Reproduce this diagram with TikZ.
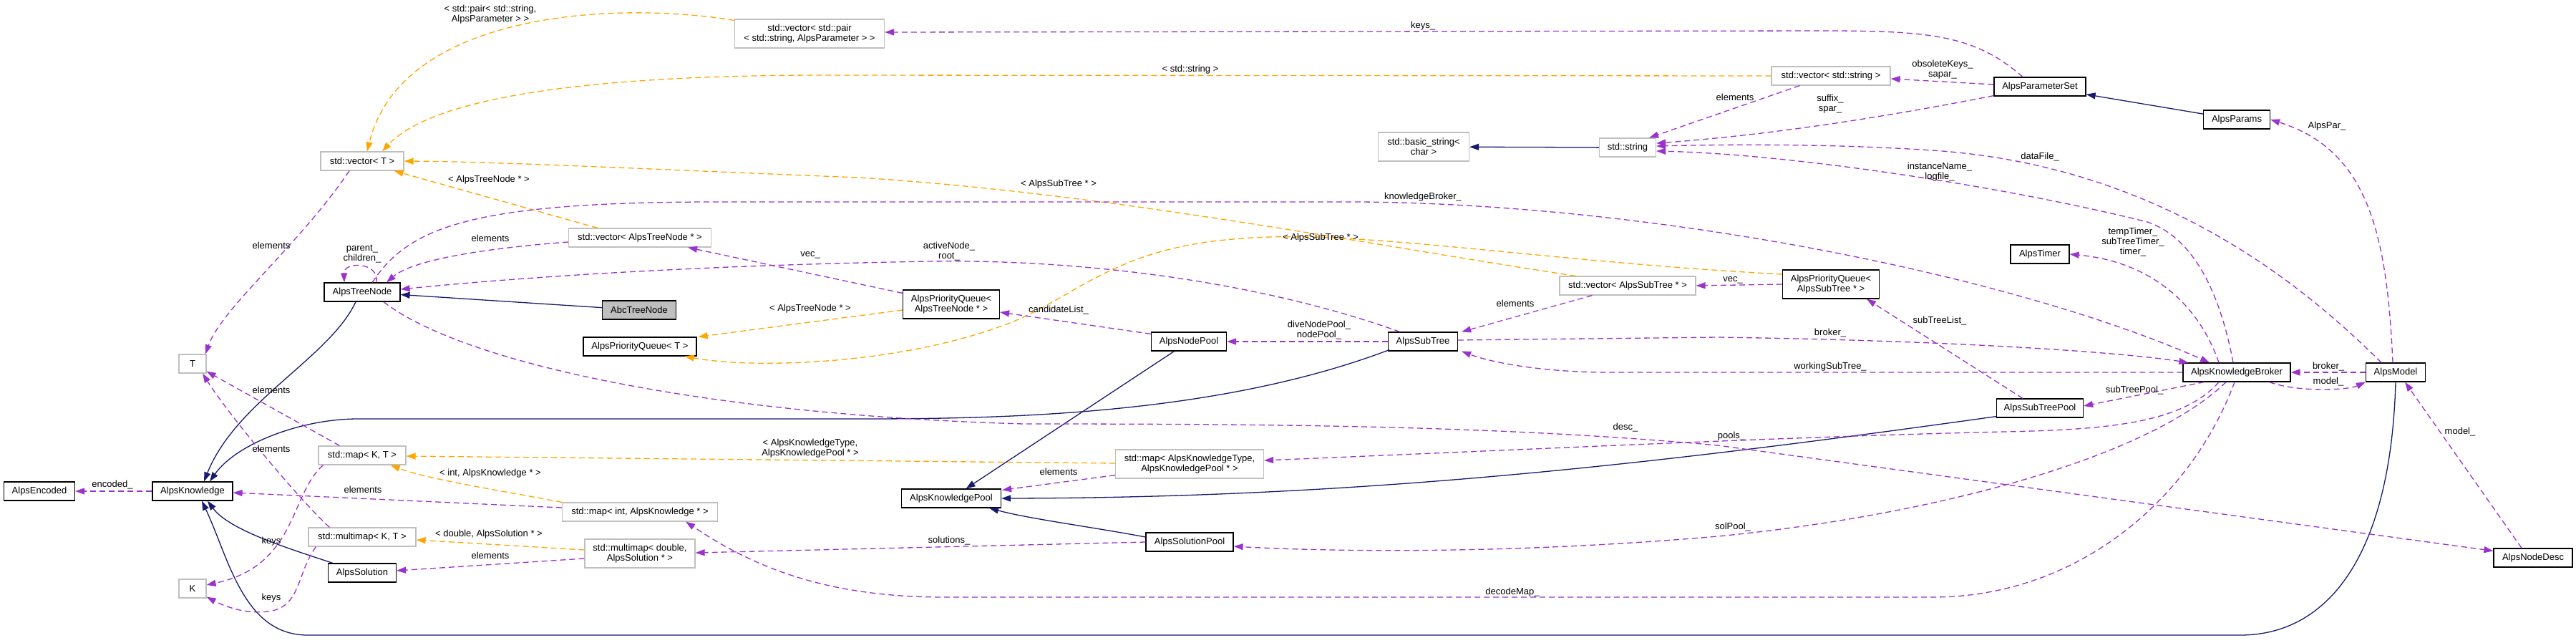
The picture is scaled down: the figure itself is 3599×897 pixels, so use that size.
\documentclass[tikz,border=0pt]{standalone}
\usepackage{fontspec}
\setmainfont{Liberation Sans}
\usetikzlibrary{arrows.meta,calc}
\definecolor{inhblue}{RGB}{25,25,112}
\definecolor{usepurple}{RGB}{154,50,205}
\definecolor{tplorange}{RGB}{255,165,0}
\definecolor{extgray}{RGB}{191,191,191}

\begin{document}
\begin{tikzpicture}[
  x=1pt, y=-1pt,
  cls/.style={draw=black, line width=1.2pt, fill=white, align=center, font=\fontsize{13}{14}\selectfont, inner sep=2pt, minimum height=26pt},
  ext/.style={cls, draw=extgray},
  lbl/.style={align=center, font=\fontsize{13}{14}\selectfont, inner sep=0pt},
  inh/.style={-{Triangle[length=13pt,width=9pt]}, draw=inhblue, line width=1.3pt},
  use/.style={-{Triangle[length=13pt,width=9pt]}, draw=usepurple, line width=1.3pt, dash pattern=on 8pt off 5pt},
  tpl/.style={use, draw=tplorange},
]
\useasboundingbox (0,0) rectangle (3599,897);

% Classes
\node[ext, minimum width=209pt, minimum height=40pt] (pairVec) at (1131,47) {std::vector< std::pair\\< std::string, AlpsParameter > >};
\node[ext, minimum width=116pt] (vecT) at (506,225) {std::vector< T >};
\node[cls, minimum width=106pt] (treeNode) at (506,408) {AlpsTreeNode};
\node[cls, fill=extgray, minimum width=103pt] (abcTree) at (893,433) {AbcTreeNode};
\node[ext, minimum width=199pt] (vecTreeNode) at (894,332) {std::vector< AlpsTreeNode * >};
\node[ext, minimum width=38pt] (T) at (269,508) {T};
\node[cls, minimum width=99pt] (encoded) at (55,686) {AlpsEncoded};
\node[cls, minimum width=112pt] (knowledge) at (269,686) {AlpsKnowledge};
\node[ext, minimum width=38pt] (K) at (269,822) {K};
\node[ext, minimum width=122pt] (mapKT) at (506,636) {std::map< K, T >};
\node[ext, minimum width=150pt] (mmapKT) at (506,750) {std::multimap< K, T >};
\node[cls, minimum width=95pt] (solution) at (506,800) {AlpsSolution};
\node[cls, minimum width=158pt] (pqT) at (894,484) {AlpsPriorityQueue< T >};
\node[ext, minimum width=217pt] (mapIntK) at (894,715) {std::map< int, AlpsKnowledge * >};
\node[ext, minimum width=154pt, minimum height=40pt] (mmapDbl) at (894,773) {std::multimap< double,\\AlpsSolution * >};
\node[ext, minimum width=127pt, minimum height=40pt] (basicStr) at (1989,205) {std::basic\_string<\\char >};
\node[ext, minimum width=79pt] (stdString) at (2274,206) {std::string};
\node[cls, minimum width=135pt, minimum height=40pt] (pqTree) at (1329,425) {AlpsPriorityQueue<\\AlpsTreeNode * >};
\node[ext, minimum width=190pt] (vecSub) at (2274,399) {std::vector< AlpsSubTree * >};
\node[cls, minimum width=105pt] (nodePool) at (1661,477) {AlpsNodePool};
\node[cls, minimum width=97pt] (subTree) at (1988,477) {AlpsSubTree};
\node[ext, minimum width=207pt, minimum height=40pt] (mapKP) at (1662,648) {std::map< AlpsKnowledgeType,\\AlpsKnowledgePool * >};
\node[cls, minimum width=139pt] (kPool) at (1329,696) {AlpsKnowledgePool};
\node[cls, minimum width=122pt] (solPool) at (1662,757) {AlpsSolutionPool};
\node[ext, minimum width=166pt] (vecStr) at (2558,106) {std::vector< std::string >};
\node[cls, minimum width=128pt] (paramSet) at (2850,121) {AlpsParameterSet};
\node[cls, minimum width=93pt] (params) at (3125,167) {AlpsParams};
\node[cls, minimum width=82pt] (timer) at (2850,355) {AlpsTimer};
\node[cls, minimum width=135pt, minimum height=40pt] (pqSub) at (2558,397) {AlpsPriorityQueue<\\AlpsSubTree * >};
\node[cls, minimum width=150pt] (broker) at (3125,520) {AlpsKnowledgeBroker};
\node[cls, minimum width=83pt] (model) at (3347,520) {AlpsModel};
\node[cls, minimum width=121pt] (subPool) at (2850,570) {AlpsSubTreePool};
\node[cls, minimum width=110pt] (nodeDesc) at (3539,779) {AlpsNodeDesc};

% Inheritance
\draw[inh] (abcTree) -- (treeNode);
\draw[inh] ($(treeNode.south)+(-9,0)$) .. controls (460,500) and (330,560) .. ($(knowledge.north)+(16,0)$);
\draw[inh] ($(subTree.south west)+(2,-2)$) .. controls (1700,580) and (1400,585) .. (1200,585) -- (500,585) .. controls (420,585) and (330,620) .. ($(knowledge.north)+(24,0)$);
\draw[inh] ($(solution.north west)+(7,0)$) .. controls (400,765) and (320,740) .. ($(knowledge.south)+(21,0)$);
\draw[inh] (model.south) .. controls (3340,780) and (3250,887) .. (3130,887) -- (430,887) .. controls (340,887) and (320,780) .. ($(knowledge.south)+(13,0)$);
\draw[inh] (nodePool) -- (kPool);
\draw[inh] ($(subPool.south west)+(0,-2)$) .. controls (2300,650) and (1900,695) .. (kPool.east);
\draw[inh] ($(solPool.west)+(0,-7)$) .. controls (1520,735) and (1440,725) .. ($(kPool.south east)+(-17,0)$);
\draw[inh] (stdString) -- (basicStr);
\draw[inh] (params) -- (paramSet);

% Template instances
\draw[tpl] ($(pairVec.north west)+(0,2)$) .. controls (850,0) and (560,20) .. ($(vecT.north)+(7,0)$);
\node[lbl] (lPair) at (685,20) {< std::pair< std::string,\\AlpsParameter > >};
\draw[tpl] (vecStr.west) -- (1150,105) .. controls (800,105) and (600,140) .. ($(vecT.north)+(28,0)$);
\node[lbl] (lStr) at (1663,97) {< std::string >};
\draw[tpl] ($(vecTreeNode.north west)+(41,0)$) -- ($(vecT.south east)+(-14,0)$);
\node[lbl] (lVecTree) at (683,251) {< AlpsTreeNode * >};
\draw[tpl] ($(vecSub.north west)+(23,0)$) .. controls (1900,340) and (1550,270) .. (1200,248) .. controls (900,236) and (700,226) .. (vecT.east);
\node[lbl] (lVecSub) at (1479,257) {< AlpsSubTree * >};
\draw[tpl] ($(pqSub.west)+(0,-14)$) .. controls (2150,365) and (1900,320) .. (1736,333) .. controls (1550,345) and (1500,420) .. (1400,455) .. controls (1250,510) and (1050,515) .. ($(pqT.south east)+(-17,0)$);
\node[lbl] (lPqSub) at (1845,332) {< AlpsSubTree * >};
\draw[tpl] ($(pqTree.west)+(0,8)$) -- ($(pqT.north east)+(2,0)$);
\node[lbl] (lPqTree) at (1132,431) {< AlpsTreeNode * >};
\draw[tpl] (mapIntK.north west) .. controls (700,685) and (600,670) .. ($(mapKT.south east)+(-22,0)$);
\node[lbl] (lMapInt) at (685,661) {< int, AlpsKnowledge * >};
\draw[tpl] ($(mapKP.west)+(0,-1)$) -- ($(mapKT.east)+(0,1)$);
\node[lbl] (lMapKP) at (1132,626) {< AlpsKnowledgeType,\\AlpsKnowledgePool * >};
\draw[tpl] ($(mmapDbl.west)+(0,-5)$) -- ($(mmapKT.east)+(0,4)$);
\node[lbl] (lMmap) at (683,746) {< double, AlpsSolution * >};

% Members: tree side
\draw[use] ($(treeNode.north)+(20,0)$) .. controls (530,365) and (480,365) .. ($(treeNode.north)+(-25,0)$);
\node[lbl] (lParent) at (506,355) {parent\_\\children\_};
\draw[use] ($(vecTreeNode.west)+(0,6)$) .. controls (700,345) and (580,360) .. ($(treeNode.north)+(34,0)$);
\node[lbl] (lElTree) at (685,333) {elements};
\draw[use] ($(subTree.north west)+(17,0)$) .. controls (1750,390) and (1500,362) .. (1300,365) .. controls (1000,370) and (750,385) .. ($(treeNode.east)+(0,-4)$);
\node[lbl] (lActive) at (1326,351) {activeNode\_\\root\_};
\draw[use] ($(pqTree.north west)+(0,5)$) -- ($(vecTreeNode.south east)+(-33,0)$);
\node[lbl] (lVecA) at (1132,356) {vec\_};
\draw[use] ($(treeNode.south)+(30,0)$) .. controls (650,510) and (1000,580) .. (1430,592) .. controls (1800,592) and (2100,595) .. (2400,622) -- ($(nodeDesc.north west)+(0,4)$);
\node[lbl] (lDesc) at (2271,597) {desc\_};
\draw[use] ($(treeNode.north)+(14,0)$) .. controls (570,320) and (650,282) .. (1000,282) -- (1900,282) .. controls (2300,285) and (2800,380) .. ($(broker.north)+(-38,0)$);
\node[lbl] (lKB) at (1988,275) {knowledgeBroker\_};
\draw[use] (subTree.west) -- (nodePool.east);
\node[lbl] (lDive) at (1843,461) {diveNodePool\_\\nodePool\_};
\draw[use] ($(nodePool.north west)+(0,3)$) -- ($(pqTree.east)+(0,11)$);
\node[lbl] (lCand) at (1479,433) {candidateList\_};
\draw[use] ($(vecSub.south west)+(46,0)$) -- ($(subTree.north east)+(5,0)$);
\node[lbl] (lElSub) at (2117,424) {elements};
\draw[use] (pqSub.west) -- (vecSub.east);
\node[lbl] (lVecB) at (2421,391) {vec\_};
\draw[use] ($(subPool.north)+(-24,0)$) -- ($(pqSub.south)+(50,0)$);
\node[lbl] (lSubList) at (2710,448) {subTreeList\_};

% Members: broker and model
\draw[use] (broker.west) -- (2250,520) .. controls (2150,520) and (2080,505) .. ($(subTree.south east)+(5,0)$);
\node[lbl] (lWork) at (2557,512) {workingSubTree\_};
\draw[use] ($(subTree.east)+(0,-2)$) -- (2400,471) .. controls (2700,475) and (2950,490) .. ($(broker.north west)+(8,0)$);
\node[lbl] (lBrokerA) at (2557,465) {broker\_};
\draw[use] ($(broker.north)+(-25,0)$) .. controls (3070,420) and (3000,365) .. (timer.east);
\node[lbl] (lTimer) at (2980,338) {tempTimer\_\\subTreeTimer\_\\timer\_};
\draw[use] ($(broker.north)+(-5,0)$) .. controls (3100,400) and (3060,330) .. (3000,310) .. controls (2800,260) and (2500,215) .. ($(stdString.east)+(0,5)$);
\node[lbl] (lInst) at (2710,240) {instanceName\_\\logfile\_};
\draw[use] ($(model.north)+(-20,0)$) .. controls (3200,380) and (3000,230) .. (2700,210) .. controls (2550,200) and (2400,202) .. ($(stdString.east)+(0,-2)$);
\node[lbl] (lData) at (2850,219) {dataFile\_};
\draw[use] ($(model.north)+(-4,0)$) .. controls (3335,330) and (3310,210) .. (params.east);
\node[lbl] (lPar) at (3251,176) {AlpsPar\_};
\draw[use] (model.west) -- (broker.east);
\node[lbl] (lBrokerB) at (3253,512) {broker\_};
\draw[use] ($(broker.south east)+(-30,0)$) .. controls (3210,548) and (3280,545) .. (model.south west);
\node[lbl] (lModelA) at (3253,533) {model\_};
\draw[use] ($(nodeDesc.north)+(-16,0)$) -- ($(model.south east)+(-29,0)$);
\node[lbl] (lModelB) at (3437,603) {model\_};
\draw[use] ($(broker.south west)+(30,0)$) -- ($(subPool.east)+(0,-3)$);
\node[lbl] (lSubPool) at (2982,545) {subTreePool\_};
\draw[use] ($(broker.south)+(-25,0)$) .. controls (3050,590) and (2950,600) .. (2800,603) .. controls (2500,610) and (2200,625) .. ($(mapKP.east)+(0,-5)$);
\node[lbl] (lPools) at (2419,609) {pools\_};
\draw[use] ($(broker.south)+(-15,0)$) .. controls (3000,640) and (2700,720) .. (2400,749) .. controls (2100,775) and (1850,770) .. ($(solPool.east)+(0,6)$);
\node[lbl] (lSolPool) at (2421,736) {solPool\_};
\draw[use] ($(broker.south)+(-3,0)$) .. controls (3060,700) and (2900,834) .. (2700,834) -- (1320,834) .. controls (1150,834) and (1050,790) .. ($(mapIntK.south east)+(-45,0)$);
\node[lbl] (lDecode) at (2113,827) {decodeMap\_};

% Members: parameters
\draw[use] ($(paramSet.west)+(0,-3)$) -- ($(vecStr.east)+(0,4)$);
\node[lbl] (lObs) at (2714,97) {obsoleteKeys\_\\sapar\_};
\draw[use] ($(paramSet.south west)+(0,-1)$) .. controls (2600,170) and (2450,190) .. ($(stdString.east)+(0,-6)$);
\node[lbl] (lSuffix) at (2557,145) {suffix\_\\spar\_};
\draw[use] ($(vecStr.south west)+(40,0)$) -- ($(stdString.north east)+(-10,0)$);
\node[lbl] (lElStr) at (2424,136) {elements};
\draw[use] ($(paramSet.north)+(-24,0)$) .. controls (2760,50) and (2700,43) .. (2550,43) -- ($(pairVec.east)+(0,-2)$);
\node[lbl] (lKeys) at (1988,36) {keys\_};

% Members: pools and containers
\draw[use] (solPool.west) -- ($(mmapDbl.east)+(0,-1)$);
\node[lbl] (lSol) at (1326,755) {solutions\_};
\draw[use] ($(mapKP.south west)+(0,-5)$) -- ($(kPool.north east)+(1,2)$);
\node[lbl] (lElKP) at (1479,659) {elements};
\draw[use] ($(mmapDbl.west)+(0,7)$) -- ($(solution.east)+(0,-3)$);
\node[lbl] (lElSol) at (685,776) {elements};
\draw[use] ($(mapIntK.west)+(0,-6)$) -- ($(knowledge.east)+(0,2)$);
\node[lbl] (lElKnow) at (507,684) {elements};
\draw[use] (knowledge.west) -- (encoded.east);
\node[lbl] (lEnc) at (157,677) {encoded\_};

% Members: generic containers
\draw[use] ($(vecT.south)+(-18,0)$) .. controls (420,340) and (310,430) .. ($(T.north)+(18,0)$);
\node[lbl] (lElVecT) at (379,343) {elements};
\draw[use] ($(mapKT.north west)+(30,0)$) -- ($(T.south east)+(0,-3)$);
\node[lbl] (lElMapT) at (379,545) {elements};
\draw[use] ($(mmapKT.north west)+(30,0)$) .. controls (420,700) and (320,580) .. ($(T.south)+(14,0)$);
\node[lbl] (lElMmapT) at (379,627) {elements};
\draw[use] ($(mapKT.south west)+(7,0)$) .. controls (405,690) and (415,790) .. ($(K.east)+(0,-5)$);
\node[lbl] (lKeysMap) at (379,756) {keys};
\draw[use] ($(mmapKT.south west)+(11,0)$) .. controls (415,800) and (420,845) .. (380,853) .. controls (345,860) and (310,845) .. ($(K.south east)+(0,-2)$);
\node[lbl] (lKeysMmap) at (379,835) {keys};
\end{tikzpicture}
\end{document}
